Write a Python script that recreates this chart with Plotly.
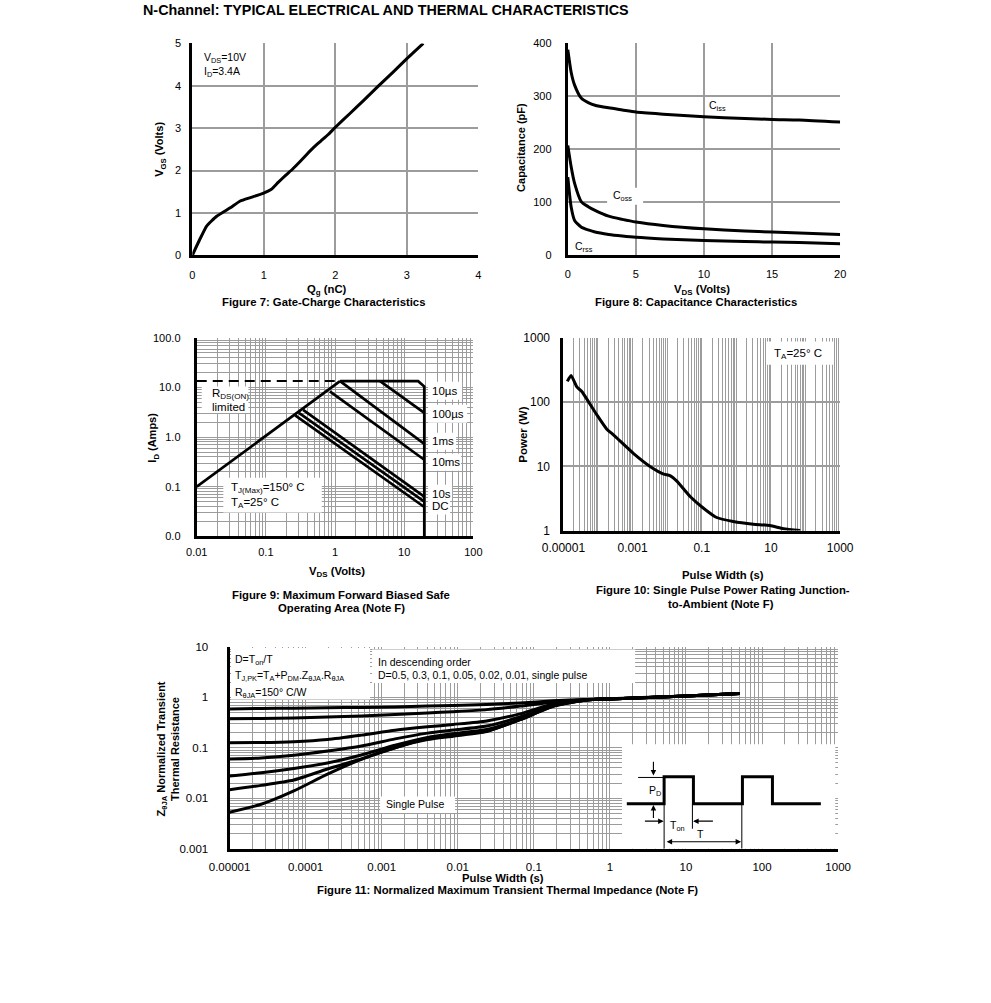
import math
import plotly.graph_objects as go

# figure 991x1003 at the page origin (body margin removed after plotting)
OFF = 0
FW, FH = 991, 1003
# measured page->photo mapping of the viewer (affine); positions below are given in photo pixels
AX, BX = 0.9635, 22.0
AY, BY = 0.9866, 7.1
FONT = "Liberation Sans, Arial, sans-serif"
GRID = "#9c9c9c"
LW = 3

# ---------------- data ----------------
# Figure 7: gate charge
qg_nc = [0, 0.1, 0.2, 0.34, 0.53, 0.67, 0.81, 0.99, 1.1, 1.2, 1.3, 1.4, 1.5, 1.6, 1.7, 1.8, 1.9, 2.0,
         2.2, 2.4, 2.6, 2.8, 3.0, 3.23]
vgs_v = [0, 0.36, 0.69, 0.92, 1.12, 1.28, 1.36, 1.46, 1.55, 1.72, 1.88, 2.03, 2.2, 2.38, 2.55, 2.7, 2.85, 3.02,
         3.34, 3.66, 3.99, 4.31, 4.64, 5.0]

# Figure 8: capacitance
vds_cap = [0, 0.25, 0.5, 1, 1.5, 2, 3, 4, 5, 7, 10, 13, 15, 17, 20]
ciss_pf = [388, 345, 321, 296, 288, 283, 278, 274, 270, 266, 261, 258, 256, 255, 251]
coss_pf = [207, 166, 135, 100, 91, 84, 73, 67, 62, 55.5, 49, 45, 43, 41, 38.5]
crss_pf = [147, 90, 65, 52, 47, 43, 38.5, 35.5, 33, 30, 27, 25, 24, 23, 21]

# Figure 9: safe operating area
rds_v = [0.01, 1.18]
rds_i = [0.1, 13.5]
lim_v = [0.01, 1.18]
lim_i = [13.5, 13.5]
us10_v = [1.18, 15.9, 19.5, 19.5]
us10_i = [13.5, 13.5, 10.5, 0.01]
us100_v = [4.47, 19.5]
us100_i = [13.5, 3.1]
ms1_v = [1.18, 19.5]
ms1_i = [13.5, 0.73]
ms10_v = [0.84, 19.5]
ms10_i = [8.4, 0.35]
s1_v = [0.345, 19.5]
s1_i = [3.55, 0.063]
s10_v = [0.30, 19.5]
s10_i = [3.1, 0.05]
dc_v = [0.265, 19.5]
dc_i = [2.75, 0.039]
soa_labels = ["10µs", "100µs", "1ms", "10ms", "10s", "DC"]
soa_label_i = [8.4, 2.94, 0.82, 0.316, 0.072, 0.040]

# Figure 10: single pulse power
pulse_w = [1.3e-5, 1.67e-5, 2.45e-5, 3.4e-5, 9.2e-5, 1.8e-4, 2.8e-4, 1.05e-3, 3.2e-3, 7.9e-3,
           0.012, 0.019, 0.046, 0.11, 0.27, 0.81, 3.1, 9.3, 23, 70]
power_w = [211, 261, 173, 147, 64, 38, 31, 16, 10, 7.6,
           7.2, 5.9, 3.4, 2.25, 1.6, 1.39, 1.26, 1.2, 1.07, 1.0]

# Figure 11: normalized transient thermal impedance
zt_x = [1e-5, 2.6e-5, 7e-5, 1.94e-4, 5.4e-4, 1.5e-3, 4e-3, 8.7e-3, 0.024, 0.066, 0.18, 0.49, 1, 10, 51]
z_d05 = [0.59, 0.6, 0.61, 0.62, 0.63, 0.645, 0.67, 0.69, 0.72, 0.77, 0.85, 0.91, 0.94, 1.06, 1.19]
z_d03 = [0.375, 0.38, 0.39, 0.405, 0.425, 0.455, 0.49, 0.52, 0.57, 0.67, 0.8, 0.89, 0.93, 1.06, 1.19]
z_d01 = [0.126, 0.127, 0.132, 0.146, 0.178, 0.222, 0.26, 0.29, 0.34, 0.47, 0.74, 0.89, 0.93, 1.06, 1.19]
z_d005 = [0.06, 0.063, 0.071, 0.086, 0.108, 0.15, 0.195, 0.225, 0.27, 0.41, 0.7, 0.88, 0.93, 1.06, 1.19]
z_d002 = [0.0275, 0.032, 0.039, 0.05, 0.072, 0.112, 0.16, 0.19, 0.23, 0.37, 0.68, 0.88, 0.93, 1.06, 1.19]
z_d001 = [0.0148, 0.018, 0.023, 0.038, 0.06, 0.1, 0.15, 0.18, 0.215, 0.36, 0.67, 0.88, 0.93, 1.06, 1.19]
z_single = [0.0053, 0.0076, 0.014, 0.03, 0.059, 0.1, 0.145, 0.17, 0.21, 0.36, 0.66, 0.88, 0.93, 1.06, 1.19]

# Figure 11 inset: pulse-train schematic (inset units)
inset_pulse_x = [4.7, 42, 42, 71.3, 71.3, 120.3, 120.3, 150.3, 150.3, 198.7]
inset_pulse_y = [59.3, 59.3, 32.3, 32.3, 59.3, 59.3, 32.3, 32.3, 59.3, 59.3]

# tick labels
f9_x_labels = {-2: "0.01", -1: "0.1", 0: "1", 1: "10", 2: "100"}
f9_y_labels = {-2: "0.0", -1: "0.1", 0: "1.0", 1: "10.0", 2: "100.0"}
f10_x_labels = {-5: "0.00001", -3: "0.001", -1: "0.1", 1: "10", 3: "1000"}
f10_y_labels = {0: "1", 1: "10", 2: "100", 3: "1000"}
f11_x_labels = {-5: "0.00001", -4: "0.0001", -3: "0.001", -2: "0.01", -1: "0.1",
                0: "1", 1: "10", 2: "100", 3: "1000"}
f11_y_labels = {-3: "0.001", -2: "0.01", -1: "0.1", 0: "1", 1: "10"}

# ---------------- layout geometry (photo pixels) ----------------
P7 = (192.3, 43.5, 478.3, 255.5)
P8 = (567.7, 43.5, 840.0, 255.0)
P9 = (196.7, 338.3, 473.3, 536.7)
P10 = (563.3, 338.3, 840.0, 531.0)
P11 = (229.5, 647.3, 838.0, 849.3)
PIN = (622.0, 745.0, 835.0, 849.3)

SUB = {  # plot box, x range, y range, log flags
    2: (P8, (0, 20), (0, 400), False, False),
    3: (P9, (-2, 2), (-2, 2), True, True),
    4: (P10, (-5, 3), (0, 3), True, True),
    5: (P11, (-5, 3), (-3, 1), True, True),
}


def fx(x):  # photo x -> paper fraction
    return ((x - BX) / AX - OFF) / FW


def fy(y):  # photo y -> paper fraction
    return 1 - ((y - BY) / AY - OFF) / FH


def xdom(p):
    return [fx(p[0]), fx(p[2])]


def ydom(p):
    return [fy(p[3]), fy(p[1])]


def px_to_data(sub, px, py):
    p, xr, yr, xl, yl = SUB[sub]
    gx = (px - p[0]) / (p[2] - p[0])
    gy = (p[3] - py) / (p[3] - p[1])
    vx = xr[0] + gx * (xr[1] - xr[0])
    vy = yr[0] + gy * (yr[1] - yr[0])
    return (10 ** vx if xl else vx), (10 ** vy if yl else vy)


def log_ticks(lo, hi, labels, minor=True):
    vals, texts = [], []
    for k in range(lo, hi + 1):
        mults = range(1, 10) if (minor and k < hi) else [1]
        for m in mults:
            vals.append(m * 10.0 ** k)
            texts.append(labels.get(k, "") if m == 1 else "")
    return vals, texts


base_axis = dict(showgrid=True, gridcolor=GRID, gridwidth=1.4, zeroline=False,
                 showline=True, linecolor="black", linewidth=3,
                 ticks="outside", tickcolor="rgba(0,0,0,0)",
                 fixedrange=True)


def lin_axis(p, which, rng, dtick, ticklen, size=11):
    d = dict(base_axis)
    d.update(domain=xdom(p) if which == "x" else ydom(p), range=rng, dtick=dtick,
             tick0=0, ticklen=ticklen, gridwidth=1.8,
             tickfont=dict(family=FONT, size=size, color="black"))
    return d


def log_axis(p, which, lo, hi, labels, ticklen, minor=True, size=11, gw=1.3):
    vals, texts = log_ticks(lo, hi, labels, minor)
    d = dict(base_axis)
    d.update(domain=xdom(p) if which == "x" else ydom(p), type="log", range=[lo, hi],
             tickmode="array", tickvals=vals, ticktext=texts, ticklen=ticklen,
             gridwidth=gw, tickfont=dict(family=FONT, size=size, color="black"))
    return d


fig = go.Figure()
line = dict(color="black", width=LW)


# ---------------- white label boxes (drawn as filled traces, above grid) ----------------
def white_box(sub, x0, y0, x1, y1):
    ax0, ay0 = px_to_data(sub, x0, y0)
    ax1, ay1 = px_to_data(sub, x1, y1)
    fig.add_trace(go.Scatter(x=[ax0, ax1, ax1, ax0, ax0], y=[ay0, ay0, ay1, ay1, ay0],
                             mode="lines", fill="toself", fillcolor="white",
                             line=dict(width=0, color="white"), hoverinfo="skip",
                             xaxis=f"x{sub}", yaxis=f"y{sub}"))


white_box(2, 607, 188, 643, 205)
white_box(3, 201.7, 386.7, 248.3, 413.3)
white_box(3, 223.3, 478.0, 321.7, 513.0)
white_box(3, 428.0, 382.0, 462.0, 400.0)
white_box(3, 428.0, 405.0, 467.0, 423.0)
white_box(3, 428.0, 433.0, 456.0, 450.0)
white_box(3, 428.0, 454.0, 461.0, 471.0)
white_box(3, 428.0, 485.0, 452.0, 500.0)
white_box(3, 428.0, 500.0, 450.0, 515.0)
white_box(4, 766.7, 341.7, 833.3, 365.0)
white_box(5, 231.0, 648.5, 370.0, 700.0)
white_box(5, 372.0, 650.0, 635.0, 683.5)
white_box(5, 380.0, 797.0, 455.0, 813.5)
white_box(5, 622.0, 745.0, 835.0, 845.5)

# Figure 7
fig.add_trace(go.Scatter(x=qg_nc, y=vgs_v, mode="lines",
                         line=dict(color="black", width=LW, shape="spline", smoothing=0.4),
                         xaxis="x", yaxis="y"))

# Figure 8
for ys in (ciss_pf, coss_pf, crss_pf):
    fig.add_trace(go.Scatter(x=vds_cap, y=ys, mode="lines",
                             line=dict(color="black", width=LW, shape="spline", smoothing=0.6),
                             xaxis="x2", yaxis="y2"))

# Figure 9
fig.add_trace(go.Scatter(x=lim_v, y=lim_i, mode="lines", line=dict(color="black", width=2, dash="10px,6px"),
                         xaxis="x3", yaxis="y3"))
for vx, iy in ((rds_v, rds_i), (us10_v, us10_i), (us100_v, us100_i), (ms1_v, ms1_i),
               (ms10_v, ms10_i), (s1_v, s1_i), (s10_v, s10_i), (dc_v, dc_i)):
    fig.add_trace(go.Scatter(x=vx, y=iy, mode="lines", line=dict(color="black", width=2.7),
                             xaxis="x3", yaxis="y3"))

# Figure 10
fig.add_trace(go.Scatter(x=pulse_w, y=power_w, mode="lines",
                         line=dict(color="black", width=LW, shape="spline", smoothing=0.5),
                         xaxis="x4", yaxis="y4"))

# Figure 11
for zs in (z_d05, z_d03, z_d01, z_d005, z_d002, z_d001, z_single):
    fig.add_trace(go.Scatter(x=zt_x, y=zs, mode="lines",
                             line=dict(color="black", width=LW, shape="spline", smoothing=0.6),
                             xaxis="x5", yaxis="y5"))

# inset schematic
fig.add_trace(go.Scatter(x=inset_pulse_x, y=inset_pulse_y, mode="lines", line=dict(color="black", width=3),
                         xaxis="x6", yaxis="y6"))
thin = dict(color="black", width=1)
for xs, ys in (([16, 42], [33, 33]), ([42, 42], [59.3, 104.3]), ([119.7, 119.7], [59.3, 104.3]),
               ([70.3, 70.3], [60, 84.3])):
    fig.add_trace(go.Scatter(x=xs, y=ys, mode="lines", line=thin, xaxis="x6", yaxis="y6"))

# ---------------- axes ----------------
fig.update_layout(
    xaxis=lin_axis(P7, "x", [0, 4], 1, 8),
    yaxis=lin_axis(P7, "y", [0, 5], 1, 6),
    xaxis2=lin_axis(P8, "x", [0, 20], 5, 7),
    yaxis2=lin_axis(P8, "y", [0, 400], 100, 11),
    xaxis3=log_axis(P9, "x", -2, 2, f9_x_labels, 3),
    yaxis3=log_axis(P9, "y", -2, 2, f9_y_labels, 11),
    xaxis4=log_axis(P10, "x", -5, 3, f10_x_labels, 4, size=12),
    yaxis4=log_axis(P10, "y", 0, 3, f10_y_labels, 8, minor=False, size=12, gw=1.7),
    xaxis5=log_axis(P11, "x", -5, 3, f11_x_labels, 5, size=11.5),
    yaxis5=log_axis(P11, "y", -3, 1, f11_y_labels, 16, size=11.5),
    xaxis6=dict(domain=xdom(PIN), range=[0, PIN[2] - PIN[0]], visible=False, fixedrange=True),
    yaxis6=dict(domain=ydom(PIN), range=[PIN[3] - PIN[1], 0], visible=False, fixedrange=True),
)
for i in range(1, 7):
    ax = "xaxis" if i == 1 else f"xaxis{i}"
    ay = "yaxis" if i == 1 else f"yaxis{i}"
    fig.layout[ax].anchor = "y" if i == 1 else f"y{i}"
    fig.layout[ay].anchor = "x" if i == 1 else f"x{i}"


# ---------------- annotations ----------------
def ann(text, x, y, size=11, bold=False, xanchor="center", angle=0):
    return dict(text=f"<b>{text}</b>" if bold else text, x=fx(x), y=fy(y),
                xref="paper", yref="paper", showarrow=False,
                font=dict(family=FONT, size=size, color="black"),
                xanchor=xanchor, yanchor="middle", textangle=angle)


CAP = 11.3
anns = [
    ann("N-Channel: TYPICAL ELECTRICAL AND THERMAL CHARACTERISTICS", 141, 10, 14.35, True, "left"),
    # fig 7
    ann("V<sub>DS</sub>=10V", 202, 58, 10.5, False, "left"),
    ann("I<sub>D</sub>=3.4A", 202, 72, 10.5, False, "left"),
    ann("V<sub>GS</sub> (Volts)", 160, 150, 11, True, angle=-90),
    ann("Q<sub>g</sub> (nC)", 327, 290, CAP, True),
    ann("Figure 7: Gate-Charge Characteristics", 323, 302, CAP, True),
    # fig 8
    ann("C<sub>iss</sub>", 707, 106, 10.5, False, "left"),
    ann("C<sub>oss</sub>", 611, 196, 10.5, False, "left"),
    ann("C<sub>rss</sub>", 573, 247, 10.5, False, "left"),
    ann("Capacitance (pF)", 521, 148, 11, True, angle=-90),
    ann("V<sub>DS</sub> (Volts)", 702, 290, CAP, True),
    ann("Figure 8: Capacitance Characteristics", 696, 302, CAP, True),
    # fig 9
    ann("R<sub>DS(ON)</sub>", 210, 394, 11.5, False, "left"),
    ann("limited", 210, 407, 11.5, False, "left"),
    ann("T<sub>J(Max)</sub>=150° C", 229, 488, 11.5, False, "left"),
    ann("T<sub>A</sub>=25° C", 229, 503, 11.5, False, "left"),
    ann("I<sub>D</sub> (Amps)", 153, 438, 11, True, angle=-90),
    ann("V<sub>DS</sub> (Volts)", 337, 572, CAP, True),
    ann("Figure 9: Maximum Forward Biased Safe", 341, 595, CAP, True),
    ann("Operating Area (Note F)", 341, 608, CAP, True),
    # fig 10
    ann("T<sub>A</sub>=25° C", 772, 354, 11.5, False, "left"),
    ann("Power (W)", 523, 435, 11.5, True, angle=-90),
    ann("Pulse Width (s)", 723, 575, CAP, True),
    ann("Figure 10: Single Pulse Power Rating Junction-", 723, 590, CAP, True),
    ann("to-Ambient (Note F)", 721, 604, CAP, True),
    # fig 11
    ann("D=T<sub>on</sub>/T", 233, 660, 10.5, False, "left"),
    ann("T<sub>J,PK</sub>=T<sub>A</sub>+P<sub>DM</sub>.Z<sub>θJA</sub>.R<sub>θJA</sub>", 233, 676, 10.5, False, "left"),
    ann("R<sub>θJA</sub>=150° C/W", 233, 693, 10.5, False, "left"),
    ann("In descending order", 376, 662, 10.5, False, "left"),
    ann("D=0.5, 0.3, 0.1, 0.05, 0.02, 0.01, single pulse", 376, 675, 10.5, False, "left"),
    ann("Single Pulse", 384, 805, 10.5, False, "left"),
    ann("<b>Z<sub>θJA</sub> Normalized Transient<br>Thermal Resistance</b>", 168, 750, 11, False, angle=-90),
    ann("Pulse Width (s)", 503, 879, CAP, True),
    ann("Figure 11: Normalized Maximum Transient Thermal Impedance (Note F)", 507, 891, CAP, True),
]

# SOA labels in data coordinates (log axis -> log10 position)
for txt, iy in zip(soa_labels, soa_label_i):
    anns.append(dict(text=txt, x=math.log10(23.5), y=math.log10(iy), xref="x3", yref="y3",
                     showarrow=False, xanchor="left", yanchor="middle",
                     font=dict(family=FONT, size=11.5, color="black")))

# inset texts and arrows
inset_txt = dict(xref="x6", yref="y6", showarrow=False, font=dict(family=FONT, size=10.5, color="black"))
anns.append(dict(text="P<sub>D</sub>", x=33, y=47, **inset_txt))
anns.append(dict(text="T<sub>on</sub>", x=55, y=82, **inset_txt))
anns.append(dict(text="T", x=78, y=90, **inset_txt))
arrow = dict(xref="x6", yref="y6", axref="x6", ayref="y6", showarrow=True, arrowhead=2,
             arrowsize=1, arrowwidth=1.1, arrowcolor="black", text="")
anns.append(dict(x=31.3, y=31, ax=31.3, ay=15.7, **arrow))
anns.append(dict(x=31.3, y=60.5, ax=31.3, ay=75, **arrow))
anns.append(dict(x=41.5, y=76.7, ax=21.3, ay=76.7, **arrow))
anns.append(dict(x=71, y=76.7, ax=92.3, ay=76.7, **arrow))
anns.append(dict(x=119, y=97.3, ax=43, ay=97.3, arrowside="end+start", **arrow))

fig.update_layout(
    annotations=anns,
    width=FW, height=FH, autosize=False, margin=dict(l=0, r=0, t=0, b=0),
    paper_bgcolor="white", plot_bgcolor="white", showlegend=False,
    font=dict(family=FONT, color="black"),
)

fig.write_html("out.html", config={"displayModeBar": False, "responsive": False},
               post_script="document.body.style.margin='0';document.body.style.overflow='hidden';")
